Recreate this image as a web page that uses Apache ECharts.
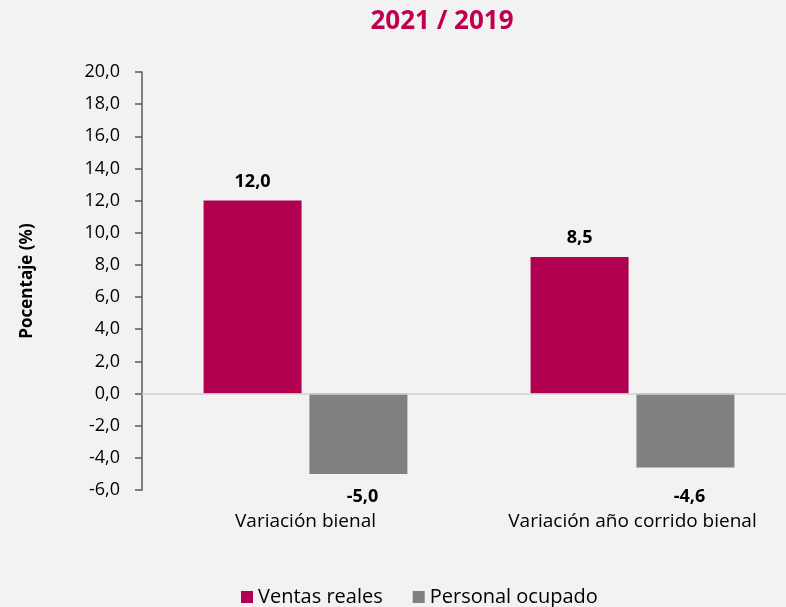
<!DOCTYPE html>
<html><head><meta charset="utf-8">
<script src="https://cdn.jsdelivr.net/npm/echarts@6/dist/echarts.min.js"></script>
<style>html,body{margin:0;padding:0;background:#f2f2f2}#c{width:786px;height:607px}</style>
</head><body><div id="c"></div>
<script>
const categories = ['Variación bienal', 'Variación año corrido bienal'];
const ventasReales = [12.0, 8.5];
const personalOcupado = [-5.0, -4.6];
const seriesNames = ['Ventas reales', 'Personal ocupado'];
const FONT = '"Open Sans", "Noto Sans", sans-serif';
const fmt = v => v.toFixed(1).replace('.', ',');
const chart = echarts.init(document.getElementById('c'));
chart.setOption({
  backgroundColor: '#f2f2f2',
  animation: false,
  title: {
    text: '2021 / 2019', left: 437, top: 4, textAlign: 'center',
    textStyle: { color: '#C0004F', fontSize: 26, fontWeight: 'bold', fontFamily: FONT }
  },
  legend: {
    top: 582, left: 236, itemWidth: 12, itemHeight: 12, itemGap: 30,
    icon: 'rect',
    textStyle: { color: '#000', fontSize: 20, fontFamily: FONT },
    data: seriesNames
  },
  grid: { left: 142, top: 72, width: 654, bottom: 117, outerBoundsMode: 'none', containLabel: false },
  xAxis: {
    type: 'category', data: categories,
    axisLine: { show: false, onZero: false }, axisTick: { show: false },
    axisLabel: { color: '#000', fontSize: 19, fontFamily: FONT, margin: 22 }
  },
  yAxis: {
    type: 'value', min: -6, max: 20, interval: 2,
    name: 'Pocentaje (%)', nameLocation: 'middle', nameGap: 106, nameRotate: 90,
    nameTextStyle: { color: '#000', fontSize: 17, fontWeight: 'bold', fontFamily: FONT },
    axisLine: { show: true, lineStyle: { color: '#595959', width: 1.5 } },
    axisTick: { show: true, inside: false, length: 7, lineStyle: { color: '#595959', width: 1.5 } },
    splitLine: { show: false },
    axisLabel: { color: '#000', fontSize: 18, fontFamily: FONT, margin: 22, formatter: v => fmt(v) }
  },
  series: [
    {
      name: seriesNames[0], type: 'bar', data: ventasReales, barWidth: 98, barGap: '8%',
      itemStyle: { color: '#B0004F' },
      label: { show: true, position: 'top', distance: 10, color: '#000', fontWeight: 'bold', fontSize: 18, fontFamily: FONT, formatter: p => fmt(p.value) },
      markLine: { silent: true, symbol: 'none', label: { show: false }, lineStyle: { color: '#d0d0d0', type: 'solid', width: 1.5 }, data: [{ yAxis: 0 }] }
    },
    {
      name: seriesNames[1], type: 'bar',
      data: personalOcupado.map((v, i) => ({ value: v, label: { distance: i === 0 ? 14 : 20 } })),
      barWidth: 98, barGap: '8%',
      itemStyle: { color: '#808080' },
      label: { show: true, position: 'bottom', offset: [4, 0], color: '#000', fontWeight: 'bold', fontSize: 18, fontFamily: FONT, formatter: p => fmt(p.value) }
    }
  ]
});
</script></body></html>
